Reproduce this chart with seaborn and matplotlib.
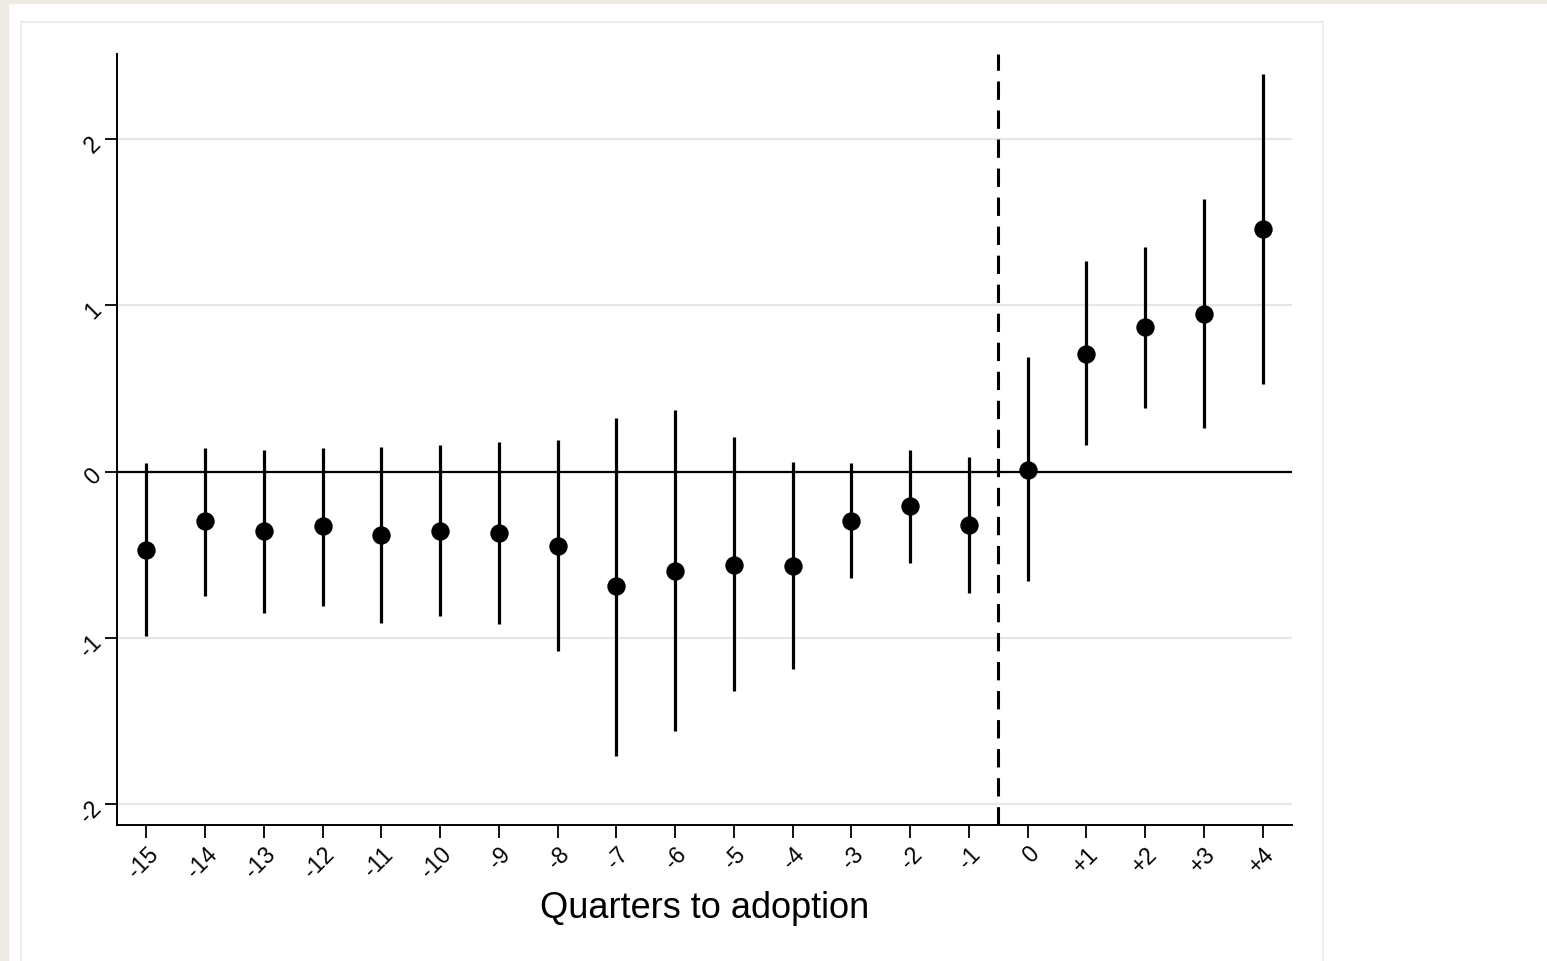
import numpy as np
import pandas as pd
import seaborn as sns
import matplotlib.pyplot as plt
from matplotlib.patches import Rectangle

# Event-study estimates
quarters = ["-15", "-14", "-13", "-12", "-11", "-10", "-9", "-8", "-7", "-6",
            "-5", "-4", "-3", "-2", "-1", "0", "+1", "+2", "+3", "+4"]
coef = [-0.47, -0.30, -0.36, -0.33, -0.38, -0.36, -0.37, -0.445, -0.69, -0.60,
        -0.56, -0.57, -0.30, -0.21, -0.32, 0.01, 0.71, 0.87, 0.95, 1.46]
ci_low = [-0.99, -0.75, -0.85, -0.81, -0.91, -0.87, -0.92, -1.08, -1.71, -1.56,
          -1.32, -1.19, -0.64, -0.55, -0.73, -0.66, 0.16, 0.385, 0.26, 0.53]
ci_high = [0.054, 0.14, 0.13, 0.14, 0.15, 0.16, 0.18, 0.19, 0.325, 0.37,
           0.21, 0.06, 0.05, 0.13, 0.09, 0.69, 1.27, 1.35, 1.64, 2.39]
y_ticks = [-2, -1, 0, 1, 2]

df = pd.DataFrame({"pos": np.arange(len(quarters)), "coef": coef,
                   "lo": ci_low, "hi": ci_high})

sns.set_style("white")
plt.rcParams["font.family"] = ["Liberation Sans", "DejaVu Sans"]
plt.rcParams["text.color"] = "black"
plt.rcParams["axes.labelcolor"] = "black"
plt.rcParams["xtick.color"] = "black"
plt.rcParams["ytick.color"] = "black"

W, H = 1547, 962
fig = plt.figure(figsize=(W / 100, H / 100), dpi=100, facecolor="white")

# outer frame like the screenshot
fig.patches.append(Rectangle((0, 1 - 4 / H), 1, 4 / H, transform=fig.transFigure,
                             color="#EEEBE4", zorder=0))
fig.patches.append(Rectangle((0, 0), 8 / W, 1, transform=fig.transFigure,
                             color="#EEEBE4", zorder=0))
fig.patches.append(Rectangle((21 / W, -0.01), (1323 - 21) / W, 1 - 23 / H + 0.01,
                             transform=fig.transFigure, fill=False,
                             edgecolor="#EEEEEE", lw=1.5, zorder=0))

ax = fig.add_axes([117 / W, 1 - 826 / H, (1292 - 117) / W, (826 - 55) / H])
ax.set_facecolor("white")

# grid lines
for t in y_ticks:
    ax.axhline(t, color="#E6E6E6", lw=1.6, zorder=0)
ax.axhline(0, color="black", lw=1.6, zorder=1)
ax.axvline(14.5, color="black", lw=2.2, ls=(0, (6, 3.5)), zorder=1)

# confidence intervals and point estimates
ax.vlines(df["pos"], df["lo"], df["hi"], color="black", lw=2.3, zorder=2)
sns.scatterplot(data=df, x="pos", y="coef", ax=ax, color="black", s=175,
                edgecolor="black", linewidth=0, zorder=3, legend=False)

ax.set_xlim(-0.5, 19.5)
ax.set_ylim(-2.127, 2.513)
ax.set_xticks(df["pos"])
ax.set_xticklabels(quarters, rotation=45, ha="right", rotation_mode="anchor",
                   fontsize=16.5)
ax.set_yticks(y_ticks)
ax.set_yticklabels([str(t) for t in y_ticks], rotation=45, ha="right",
                   va="center", rotation_mode="anchor", fontsize=16.5)
ax.tick_params(axis="both", direction="out", length=9, width=1.3, color="black",
               bottom=True, left=True)
ax.tick_params(axis="x", pad=3)
ax.tick_params(axis="y", pad=5)

for side in ["top", "right"]:
    ax.spines[side].set_visible(False)
for side in ["left", "bottom"]:
    ax.spines[side].set_color("black")
    ax.spines[side].set_linewidth(1.4)

ax.set_xlabel("Quarters to adoption", fontsize=26, labelpad=6)
ax.set_ylabel("")

plt.savefig("out.png", dpi=100, facecolor=fig.get_facecolor())
